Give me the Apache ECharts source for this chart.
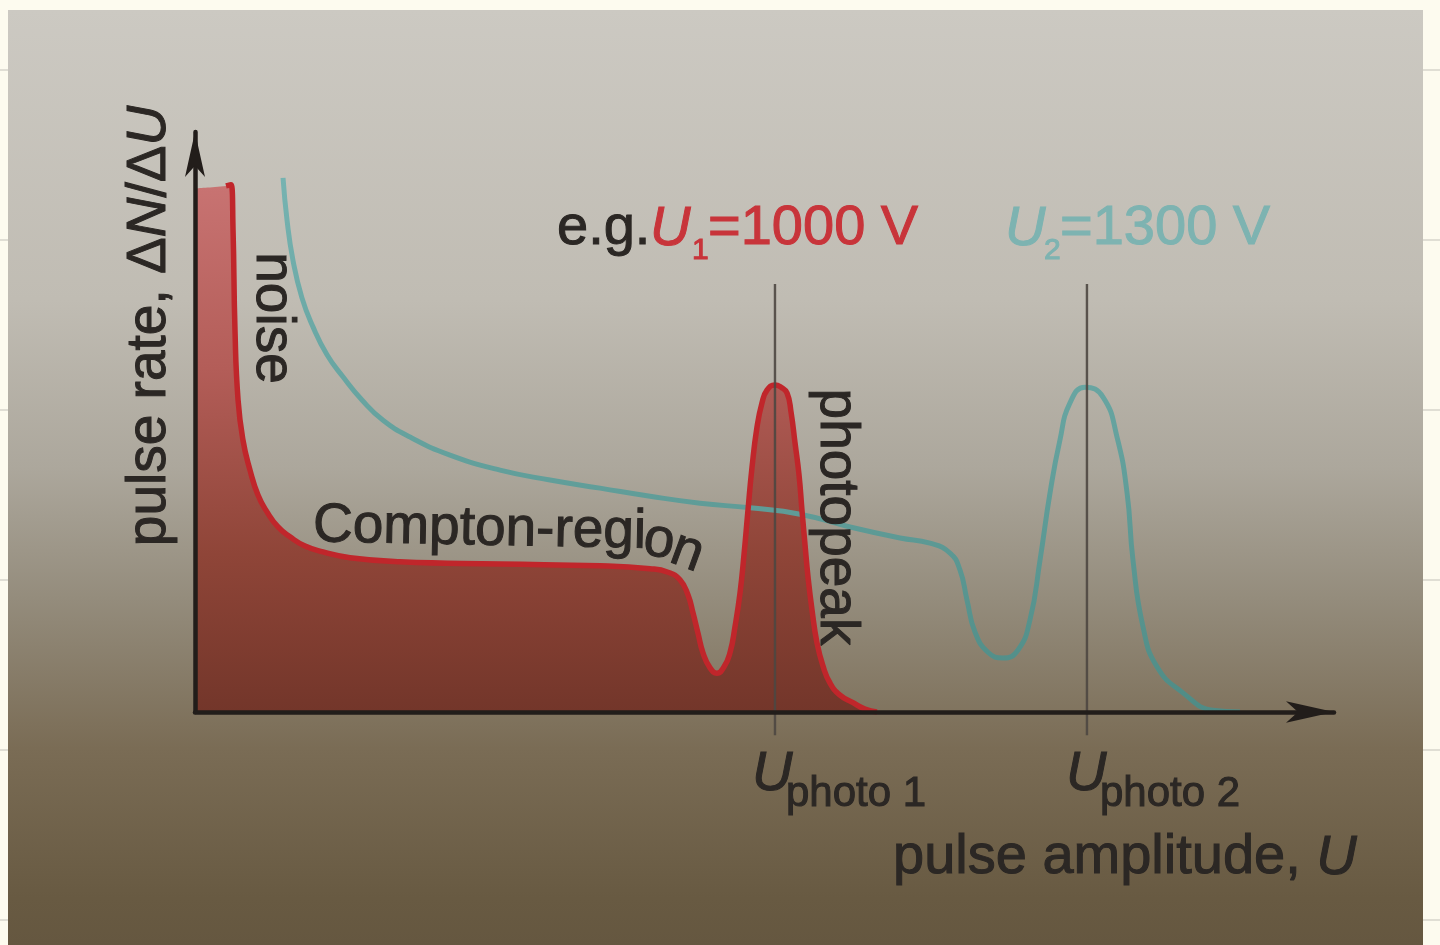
<!DOCTYPE html>
<html>
<head>
<meta charset="utf-8">
<script src="https://cdn.jsdelivr.net/npm/echarts@6/dist/echarts.min.js"></script>
<style>
html,body{margin:0;padding:0;background:#fdfbef;}
#c{width:1440px;height:945px;}
</style>
</head>
<body>
<div id="c"></div>
<script>
// ---- data (pulse amplitude in arbitrary units 0..100, pulse rate in arbitrary units 0..100) ----
const redAmplitude = [0.1, 2.72, 3.16, 3.34, 3.51, 3.78, 4.21, 4.83, 5.53, 6.32, 7.29, 8.34, 9.66, 11.24, 13.61, 18.0, 26.78, 35.56, 39.95, 41.53, 42.58, 43.28, 43.72, 44.16, 44.6, 45.22, 45.83, 46.45, 46.97, 47.41, 47.85, 48.2, 48.55, 48.9, 49.34, 49.78, 50.22, 50.92, 51.45, 51.98, 52.33, 52.68, 53.03, 53.29, 53.56, 53.82, 54.17, 54.61, 55.14, 55.75, 56.63, 57.77, 58.82, 59.88];
const redRate = [90.3, 90.7, 90.9, 83.1, 65.9, 53.8, 46.9, 41.7, 37.4, 34.5, 31.9, 30.2, 28.6, 27.6, 26.6, 25.9, 25.5, 25.2, 24.7, 24.1, 22.8, 20.2, 17.1, 13.6, 10.2, 7.6, 6.7, 7.8, 10.2, 14.7, 20.5, 27.1, 34.8, 42.1, 49.1, 53.3, 55.5, 56.4, 56.0, 55.0, 51.7, 46.4, 40.9, 34.8, 28.8, 23.3, 17.6, 11.9, 7.9, 5.0, 2.9, 1.6, 0.5, 0];
const tealAmplitude = [7.73, 8.08, 8.6, 9.39, 10.36, 11.59, 12.99, 14.66, 16.51, 18.88, 22.39, 26.78, 31.17, 35.56, 39.95, 44.34, 48.73, 53.12, 57.51, 61.9, 64.53, 66.29, 67.16, 67.78, 68.48, 69.62, 70.94, 72.26, 73.31, 74.19, 75.07, 75.94, 76.82, 78.14, 79.72, 80.95, 81.83, 82.35, 83.23, 84.46, 86.74, 89.38, 91.75];
const tealRate = [92.1, 84.8, 77.9, 71.4, 66.4, 61.6, 57.8, 53.8, 50.3, 47.4, 44.3, 41.7, 40.0, 38.6, 37.2, 36.0, 35.2, 34.1, 31.9, 30.0, 29.1, 27.4, 24.5, 19.3, 13.8, 10.3, 9.3, 10.7, 15.9, 26.2, 37.8, 46.9, 53.3, 56.0, 54.3, 47.4, 37.8, 26.2, 14.7, 7.8, 3.3, 0.3, 0];
const photopeakPositions = [50.92, 78.31];   // U_photo 1, U_photo 2
const photopeakLineTop = 73.8;
const tickBottom = -4;
const xRange = [0, 100];
const yRange = [0, 100];

const FONT = '"Liberation Sans", Arial, Helvetica, sans-serif';
const DARK = '#2b2724';
const RED = '#c8343a';
const TEAL = '#7db3b1';

const zip = (xs, ys) => xs.map((x, i) => [x, ys[i]]);
const redData = zip(redAmplitude, redRate);
const tealData = zip(tealAmplitude, tealRate);

function txt(text, x, y, size, color, opts) {
  opts = opts || {};
  const style = {
    text: text, fontSize: size, fontFamily: FONT, fill: color,
    stroke: color, lineWidth: 1,
    align: opts.align || 'left', verticalAlign: 'middle'
  };
  if (opts.italic) style.fontStyle = 'italic';
  const el = {type: 'text', x: x, y: y, z: 20, silent: true, style: style};
  if (opts.rotation) el.rotation = opts.rotation;
  return el;
}

const graphics = [];
// photo background
graphics.push({
  type: 'rect', z: -10, silent: true,
  shape: {x: 8, y: 10, width: 1415, height: 935},
  style: {
    fill: {
      type: 'linear', x: 0, y: 0, x2: 0, y2: 1,
      colorStops: [
        {offset: 0, color: '#ccc9c2'},
        {offset: 0.31, color: '#c0bcb3'},
        {offset: 0.49, color: '#aca79c'},
        {offset: 0.63, color: '#948c7c'},
        {offset: 0.79, color: '#7a6c55'},
        {offset: 0.95, color: '#685a42'},
        {offset: 1, color: '#655740'}
      ]
    }
  }
});
// margin rule marks
[70, 240, 410, 580, 750, 920].forEach(y => {
  graphics.push({type: 'line', z: -9, silent: true, shape: {x1: 0, y1: y, x2: 8, y2: y}, style: {stroke: '#d6d4cb', lineWidth: 1.5}});
  graphics.push({type: 'line', z: -9, silent: true, shape: {x1: 1423, y1: y, x2: 1440, y2: y}, style: {stroke: '#d6d4cb', lineWidth: 1.5}});
});

// labels
graphics.push(txt('e.g.', 557, 229, 56, DARK));
graphics.push(txt('U', 650, 229, 56, RED, {italic: true}));
graphics.push(txt('1', 692, 251, 30, RED));
graphics.push(txt('=1000 V', 708, 229, 56, RED));

graphics.push(txt('U', 1005, 229, 56, TEAL, {italic: true}));
graphics.push(txt('2', 1044, 251, 30, TEAL));
graphics.push(txt('=1300 V', 1060, 229, 56, TEAL));

graphics.push(txt('noise', 272, 318, 55, DARK, {rotation: -Math.PI / 2, align: 'center'}));
graphics.push(txt('photopeak', 836, 517, 55, DARK, {rotation: -Math.PI / 2, align: 'center'}));

graphics.push(txt('Compton-regi', 313, 526, 55, DARK, {rotation: -0.02}));
graphics.push(txt('o', 644, 539, 55, DARK, {rotation: -0.15}));
graphics.push(txt('n', 673, 547, 55, DARK, {rotation: -0.35}));

graphics.push({
  type: 'text', x: 150, y: 326, z: 20, rotation: Math.PI / 2, silent: true,
  style: {
    text: '{n|pulse rate, Δ}{i|N}{n|/Δ}{i|U}',
    align: 'center', verticalAlign: 'middle',
    rich: {
      n: {fontSize: 55, fontFamily: FONT, fill: DARK, stroke: DARK, lineWidth: 1},
      i: {fontSize: 55, fontFamily: FONT, fill: DARK, stroke: DARK, lineWidth: 1, fontStyle: 'italic'}
    }
  }
});

graphics.push(txt('U', 752, 774, 56, DARK, {italic: true}));
graphics.push(txt('photo 1', 786, 794, 42, DARK));
graphics.push(txt('U', 1066, 774, 56, DARK, {italic: true}));
graphics.push(txt('photo 2', 1100, 794, 42, DARK));

graphics.push({
  type: 'text', x: 893, y: 858, z: 20, silent: true,
  style: {
    text: '{n|pulse amplitude, }{i|U}',
    align: 'left', verticalAlign: 'middle',
    rich: {
      n: {fontSize: 56, fontFamily: FONT, fill: DARK, stroke: DARK, lineWidth: 1},
      i: {fontSize: 56, fontFamily: FONT, fill: DARK, stroke: DARK, lineWidth: 1, fontStyle: 'italic'}
    }
  }
});

const chart = echarts.init(document.getElementById('c'), null, {renderer: 'canvas'});

const peakLineSeries = photopeakPositions.map(p => ({
  type: 'line', z: 6, clip: false, silent: true, showSymbol: false, symbol: 'none',
  data: [[p, photopeakLineTop], [p, tickBottom]],
  lineStyle: {color: '#4e4741', width: 2.4, opacity: 0.9}
}));

chart.setOption({
  animation: false,
  backgroundColor: '#fdfbef',
  grid: {left: 195, right: 106, top: 132, bottom: 233, containLabel: false, outerBoundsMode: 'none'},
  xAxis: {
    type: 'value', min: xRange[0], max: xRange[1], z: 10,
    axisLine: {show: true, onZero: true, symbol: ['none', 'arrow'], symbolSize: [16, 48],
      lineStyle: {color: '#221d1a', width: 4.5}},
    axisTick: {show: false}, axisLabel: {show: false}, splitLine: {show: false}
  },
  yAxis: {
    type: 'value', min: yRange[0], max: yRange[1], z: 10,
    axisLine: {show: true, onZero: true, symbol: ['none', 'arrow'], symbolSize: [15, 45],
      lineStyle: {color: '#221d1a', width: 4.5}},
    axisTick: {show: false}, axisLabel: {show: false}, splitLine: {show: false}
  },
  series: [
    {
      name: 'U1 area', type: 'line', z: 2, data: redData, smooth: 0.5,
      showSymbol: false, symbol: 'none', lineStyle: {width: 0},
      areaStyle: {
        opacity: 1,
        color: {
          type: 'linear', x: 0, y: 0, x2: 0, y2: 1,
          colorStops: [
            {offset: 0, color: '#c87372'},
            {offset: 0.35, color: '#b35d58'},
            {offset: 0.7, color: '#8f4538'},
            {offset: 1, color: '#73362a'}
          ]
        }
      }
    },
    {
      name: 'U2 = 1300 V', type: 'line', z: 3, data: tealData, smooth: 0.5,
      showSymbol: false, symbol: 'none',
      lineStyle: {
        width: 5,
        color: {
          type: 'linear', x: 0, y: 0, x2: 0, y2: 1,
          colorStops: [
            {offset: 0, color: '#76b3b1'},
            {offset: 0.5, color: '#64a19d'},
            {offset: 1, color: '#4f8b85'}
          ]
        }
      }
    },
    {
      name: 'U1 = 1000 V', type: 'line', z: 4, data: redData.slice(1), smooth: 0.5,
      showSymbol: false, symbol: 'none',
      lineStyle: {width: 5.5, color: '#c0262b'}
    }
  ].concat(peakLineSeries),
  graphic: {elements: graphics}
});
</script>
</body>
</html>
